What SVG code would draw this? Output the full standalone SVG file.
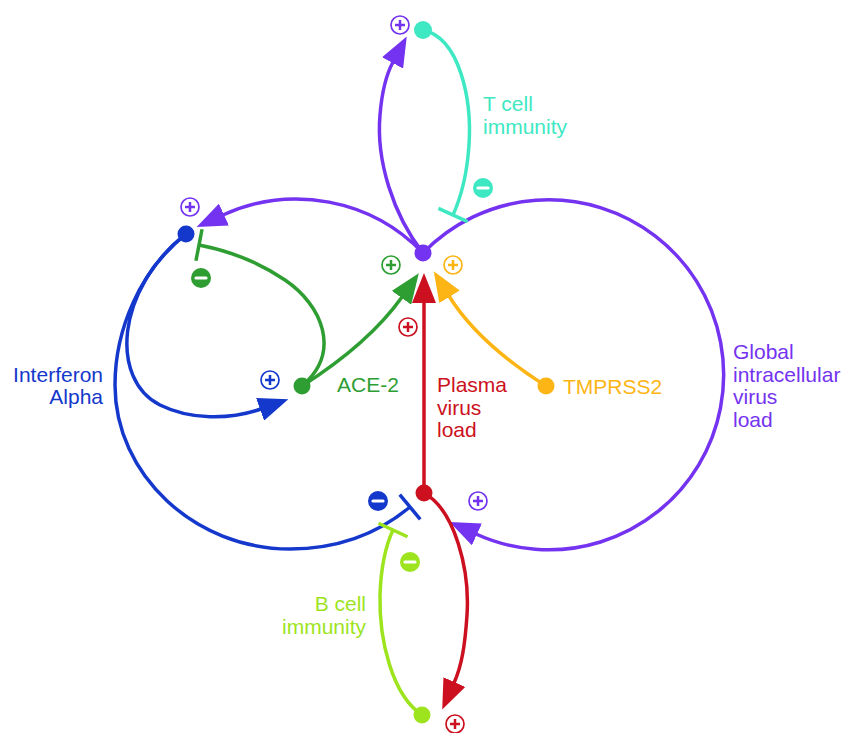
<svg xmlns="http://www.w3.org/2000/svg" xmlns:xlink="http://www.w3.org/1999/xlink" width="846" height="733" viewBox="0 0 846 733">
  <style>
    .link { fill: none; stroke-width: 3.5; stroke-linecap: butt; }
    .lbl { font-family: "Liberation Sans", Arial, sans-serif; font-size: 21px; }
    .purple { stroke: #7433f0; }
    .teal { stroke: #3ee8c2; }
    .blue { stroke: #1438cc; }
    .green { stroke: #2e9e32; }
    .orange { stroke: #fdb515; }
    .red { stroke: #cc1020; }
    .lime { stroke: #9de41e; }
  </style>
  <defs>
    <!-- activation arrowheads: base at the path end, tip 30px ahead -->
    <marker id="arr-purple" viewBox="0 0 30 24" refX="1" refY="12" markerWidth="30" markerHeight="24" markerUnits="userSpaceOnUse" orient="auto"><path d="M0,0 L30,12 L0,24 Z" fill="#7433f0"/></marker>
    <marker id="arr-blue" viewBox="0 0 30 24" refX="1" refY="12" markerWidth="30" markerHeight="24" markerUnits="userSpaceOnUse" orient="auto"><path d="M0,0 L30,12 L0,24 Z" fill="#1438cc"/></marker>
    <marker id="arr-green" viewBox="0 0 30 24" refX="1" refY="12" markerWidth="30" markerHeight="24" markerUnits="userSpaceOnUse" orient="auto"><path d="M0,0 L30,12 L0,24 Z" fill="#2e9e32"/></marker>
    <marker id="arr-orange" viewBox="0 0 30 24" refX="1" refY="12" markerWidth="30" markerHeight="24" markerUnits="userSpaceOnUse" orient="auto"><path d="M0,0 L30,12 L0,24 Z" fill="#fdb515"/></marker>
    <marker id="arr-red" viewBox="0 0 30 24" refX="1" refY="12" markerWidth="30" markerHeight="24" markerUnits="userSpaceOnUse" orient="auto"><path d="M0,0 L30,12 L0,24 Z" fill="#cc1020"/></marker>
    <!-- inhibition bars -->
    <marker id="bar-teal" viewBox="-3 -17 6 34" refX="0" refY="0" markerWidth="6" markerHeight="34" markerUnits="userSpaceOnUse" orient="auto"><path d="M0,-16 V16" stroke="#3ee8c2" stroke-width="3.5"/></marker>
    <marker id="bar-green" viewBox="-3 -17 6 34" refX="0" refY="0" markerWidth="6" markerHeight="34" markerUnits="userSpaceOnUse" orient="auto"><path d="M0,-16 V16" stroke="#2e9e32" stroke-width="3.5"/></marker>
    <marker id="bar-blue" viewBox="-3 -17 6 34" refX="0" refY="0" markerWidth="6" markerHeight="34" markerUnits="userSpaceOnUse" orient="auto"><path d="M0,-16 V16" stroke="#1438cc" stroke-width="3.5"/></marker>
    <marker id="bar-lime" viewBox="-3 -17 6 34" refX="0" refY="0" markerWidth="6" markerHeight="34" markerUnits="userSpaceOnUse" orient="auto"><path d="M0,-16 V16" stroke="#9de41e" stroke-width="3.5"/></marker>
    <!-- sign badges, coloured through currentColor -->
    <g id="plus">
      <circle r="9" fill="#fff" stroke="currentColor" stroke-width="1.7"/>
      <path d="M-5,0 H5 M0,-5 V5" stroke="currentColor" stroke-width="2.5"/>
    </g>
    <g id="minus">
      <circle r="10" fill="currentColor"/>
      <path d="M-5,0 H5" stroke="#fff" stroke-width="3.2" stroke-linecap="round"/>
    </g>
  </defs>

  <rect width="846" height="733" fill="#fff"/>

  <g id="connectors">
    <!-- global intracellular load: right loop back onto plasma load -->
    <path class="link purple" d="M423,253 A175,175 0 1,1 476,534" marker-end="url(#arr-purple)"/>
    <!-- global load activates interferon -->
    <path class="link purple" d="M423,253 A176,176 0 0,0 223,215" marker-end="url(#arr-purple)"/>
    <!-- global load activates T cell immunity -->
    <path class="link purple" d="M423,253 C393,215 376,160 380,115 C382,90 386,75 393,62" marker-end="url(#arr-purple)"/>
    <!-- T cell immunity inhibits global load -->
    <path class="link teal" d="M423,30 C460,38 472,100 469,145 C467,175 462,195 453,215" marker-end="url(#bar-teal)"/>
    <!-- interferon inhibits plasma load -->
    <path class="link blue" d="M186,234 C140,270 115,330 115,385 C115,475 195,549 290,549 C340,549 380,532 410,507" marker-end="url(#bar-blue)"/>
    <!-- interferon activates ACE-2 -->
    <path class="link blue" d="M186,234 C115,290 110,380 160,405 C190,420 230,420 261,409" marker-end="url(#arr-blue)"/>
    <!-- ACE-2 activates global load -->
    <path class="link green" d="M302,386 C335,365 375,335 402,297" marker-end="url(#arr-green)"/>
    <!-- ACE-2 inhibits interferon -->
    <path class="link green" d="M302,386 C342,352 322,305 285,280 C260,263 230,251 199,245" marker-end="url(#bar-green)"/>
    <!-- plasma load activates global load -->
    <path class="link red" d="M424,493 V302" marker-end="url(#arr-red)"/>
    <!-- TMPRSS2 activates global load -->
    <path class="link orange" d="M546,386 C505,360 470,330 449,296" marker-end="url(#arr-orange)"/>
    <!-- plasma load activates B cell immunity -->
    <path class="link red" d="M424,493 C455,510 470,570 467,615 C465,645 462,665 454,683" marker-end="url(#arr-red)"/>
    <!-- B cell immunity inhibits plasma load -->
    <path class="link lime" d="M422,715 C392,695 379,640 380,595 C381,565 386,545 393,530" marker-end="url(#bar-lime)"/>
  </g>

  <g id="signs">
    <use xlink:href="#plus" x="400" y="25" style="color:#7433f0"/>
    <use xlink:href="#minus" x="483" y="188" style="color:#3ee8c2"/>
    <use xlink:href="#plus" x="190" y="207" style="color:#7433f0"/>
    <use xlink:href="#minus" x="201" y="278" style="color:#2e9e32"/>
    <use xlink:href="#plus" x="391" y="265" style="color:#2e9e32"/>
    <use xlink:href="#plus" x="453" y="265" style="color:#fdb515"/>
    <use xlink:href="#plus" x="408" y="327" style="color:#cc1020"/>
    <use xlink:href="#plus" x="270" y="380" style="color:#1438cc"/>
    <use xlink:href="#minus" x="378" y="501" style="color:#1438cc"/>
    <use xlink:href="#plus" x="478" y="501" style="color:#7433f0"/>
    <use xlink:href="#minus" x="410" y="562" style="color:#9de41e"/>
    <use xlink:href="#plus" x="455" y="724" style="color:#cc1020"/>
  </g>

  <g id="global-load">
    <circle cx="423" cy="253" r="8.5" fill="#7433f0"/>
    <text class="lbl" x="733" y="359" fill="#7433f0">Global</text>
    <text class="lbl" x="733" y="382" fill="#7433f0">intracellular</text>
    <text class="lbl" x="733" y="404" fill="#7433f0">virus</text>
    <text class="lbl" x="733" y="427" fill="#7433f0">load</text>
  </g>

  <g id="t-cell">
    <circle cx="423" cy="30" r="9" fill="#3ee8c2"/>
    <text class="lbl" x="483" y="111" fill="#3ee8c2">T cell</text>
    <text class="lbl" x="483" y="134" fill="#3ee8c2">immunity</text>
  </g>

  <g id="interferon">
    <circle cx="186" cy="234" r="8.5" fill="#1438cc"/>
    <text class="lbl" x="103" y="382" fill="#1438cc" text-anchor="end">Interferon</text>
    <text class="lbl" x="103" y="404" fill="#1438cc" text-anchor="end">Alpha</text>
  </g>

  <g id="ace2">
    <circle cx="302" cy="386" r="8.5" fill="#2e9e32"/>
    <text class="lbl" x="337" y="392" fill="#2e9e32">ACE-2</text>
  </g>

  <g id="tmprss2">
    <circle cx="546" cy="386" r="8.5" fill="#fdb515"/>
    <text class="lbl" x="563" y="394" fill="#fdb515">TMPRSS2</text>
  </g>

  <g id="plasma-load">
    <circle cx="424" cy="493" r="8.5" fill="#cc1020"/>
    <text class="lbl" x="437" y="392" fill="#cc1020">Plasma</text>
    <text class="lbl" x="437" y="415" fill="#cc1020">virus</text>
    <text class="lbl" x="437" y="437" fill="#cc1020">load</text>
  </g>

  <g id="b-cell">
    <circle cx="422" cy="715" r="8.5" fill="#9de41e"/>
    <text class="lbl" x="366" y="611" fill="#9de41e" text-anchor="end">B cell</text>
    <text class="lbl" x="366" y="634" fill="#9de41e" text-anchor="end">immunity</text>
  </g>
</svg>
